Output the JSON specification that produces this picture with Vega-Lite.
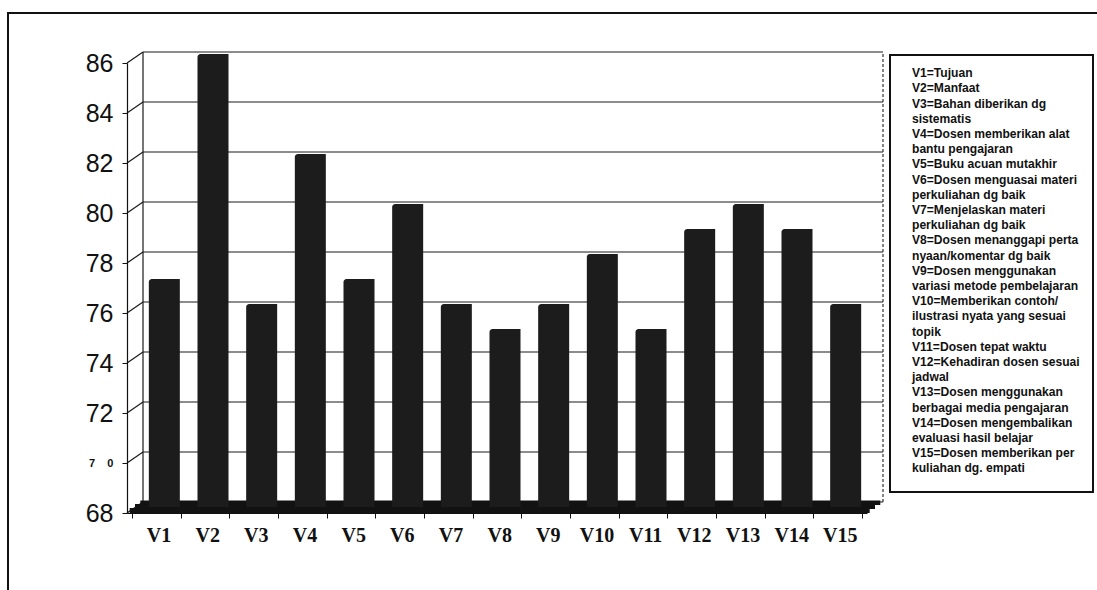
{
  "$schema": "https://vega.github.io/schema/vega-lite/v6.json",
  "width": 740,
  "height": 450,
  "autosize": "none",
  "padding": {"left": 127, "top": 63, "right": 230, "bottom": 77},
  "background": "white",
  "config": {
    "view": {"stroke": null},
    "font": "Liberation Sans"
  },
  "datasets": {
    "scores": [
      {"var": "V1", "n": 1, "value": 77},
      {"var": "V2", "n": 2, "value": 86},
      {"var": "V3", "n": 3, "value": 76},
      {"var": "V4", "n": 4, "value": 82},
      {"var": "V5", "n": 5, "value": 77},
      {"var": "V6", "n": 6, "value": 80},
      {"var": "V7", "n": 7, "value": 76},
      {"var": "V8", "n": 8, "value": 75},
      {"var": "V9", "n": 9, "value": 76},
      {"var": "V10", "n": 10, "value": 78},
      {"var": "V11", "n": 11, "value": 75},
      {"var": "V12", "n": 12, "value": 79},
      {"var": "V13", "n": 13, "value": 80},
      {"var": "V14", "n": 14, "value": 79},
      {"var": "V15", "n": 15, "value": 76}
    ],
    "ticks": [
      {"tick": 68}, {"tick": 70}, {"tick": 72}, {"tick": 74}, {"tick": 76},
      {"tick": 78}, {"tick": 80}, {"tick": 82}, {"tick": 84}, {"tick": 86}
    ],
    "keyLines": [
      {"line": 0, "text": "V1=Tujuan"},
      {"line": 1, "text": "V2=Manfaat"},
      {"line": 2, "text": "V3=Bahan diberikan dg"},
      {"line": 3, "text": "sistematis"},
      {"line": 4, "text": "V4=Dosen memberikan alat"},
      {"line": 5, "text": "bantu pengajaran"},
      {"line": 6, "text": "V5=Buku acuan mutakhir"},
      {"line": 7, "text": "V6=Dosen menguasai materi"},
      {"line": 8, "text": "perkuliahan dg baik"},
      {"line": 9, "text": "V7=Menjelaskan materi"},
      {"line": 10, "text": "perkuliahan dg baik"},
      {"line": 11, "text": "V8=Dosen menanggapi perta"},
      {"line": 12, "text": "nyaan/komentar dg baik"},
      {"line": 13, "text": "V9=Dosen menggunakan"},
      {"line": 14, "text": "variasi metode pembelajaran"},
      {"line": 15, "text": "V10=Memberikan contoh/"},
      {"line": 16, "text": "ilustrasi nyata yang sesuai"},
      {"line": 17, "text": "topik"},
      {"line": 18, "text": "V11=Dosen tepat waktu"},
      {"line": 19, "text": "V12=Kehadiran dosen sesuai"},
      {"line": 20, "text": "jadwal"},
      {"line": 21, "text": "V13=Dosen menggunakan"},
      {"line": 22, "text": "berbagai media pengajaran"},
      {"line": 23, "text": "V14=Dosen mengembalikan"},
      {"line": 24, "text": "evaluasi hasil belajar"},
      {"line": 25, "text": "V15=Dosen memberikan per"},
      {"line": 26, "text": "kuliahan dg. empati"}
    ]
  },
  "layer": [
    {
      "description": "back wall gridlines",
      "data": {"name": "ticks"},
      "mark": {"type": "rule", "color": "#1a1a1a", "strokeWidth": 1.2, "xOffset": 16, "x2Offset": 16, "yOffset": -11},
      "encoding": {
        "x": {"datum": 0.5, "type": "quantitative", "scale": {"domain": [0.5, 15.5], "nice": false, "zero": false}, "axis": null},
        "x2": {"datum": 15.5},
        "y": {"field": "tick", "type": "quantitative", "scale": {"domain": [68, 86], "nice": false, "zero": false}, "axis": null}
      }
    },
    {
      "description": "side wall diagonals",
      "data": {"name": "ticks"},
      "mark": {"type": "rule", "color": "#1a1a1a", "strokeWidth": 1.2, "x2Offset": 16, "y2Offset": -11},
      "encoding": {
        "x": {"datum": 0.5, "type": "quantitative", "scale": {"domain": [0.5, 15.5], "nice": false, "zero": false}, "axis": null},
        "x2": {"datum": 0.5},
        "y": {"field": "tick", "type": "quantitative", "scale": {"domain": [68, 86], "nice": false, "zero": false}, "axis": null},
        "y2": {"field": "tick"}
      }
    },
    {
      "description": "back wall left edge",
      "data": {"values": [{}]},
      "mark": {"type": "rule", "color": "#1a1a1a", "strokeWidth": 1.2, "xOffset": 16, "yOffset": -11, "y2Offset": -11},
      "encoding": {
        "x": {"datum": 0.5, "type": "quantitative", "scale": {"domain": [0.5, 15.5], "nice": false, "zero": false}, "axis": null},
        "y": {"datum": 68, "type": "quantitative", "scale": {"domain": [68, 86], "nice": false, "zero": false}, "axis": null},
        "y2": {"datum": 86}
      }
    },
    {
      "description": "back wall right edge",
      "data": {"values": [{}]},
      "mark": {"type": "rule", "color": "#333333", "strokeWidth": 1.2, "strokeDash": [3, 2], "xOffset": 16, "yOffset": -11, "y2Offset": -11},
      "encoding": {
        "x": {"datum": 15.5, "type": "quantitative", "scale": {"domain": [0.5, 15.5], "nice": false, "zero": false}, "axis": null},
        "y": {"datum": 68, "type": "quantitative", "scale": {"domain": [68, 86], "nice": false, "zero": false}, "axis": null},
        "y2": {"datum": 86}
      }
    },
    {
      "description": "floor, front slice",
      "data": {"values": [{}]},
      "mark": {"type": "rect", "color": "#121212", "xOffset": 2.7, "x2Offset": 2.7, "yOffset": 0, "y2Offset": -5},
      "encoding": {
        "x": {"datum": 0.5, "type": "quantitative", "scale": {"domain": [0.5, 15.5], "nice": false, "zero": false}, "axis": null},
        "x2": {"datum": 15.5},
        "y": {"datum": 68, "type": "quantitative", "scale": {"domain": [68, 86], "nice": false, "zero": false}, "axis": null},
        "y2": {"datum": 68}
      }
    },
    {
      "description": "floor, middle slice",
      "data": {"values": [{}]},
      "mark": {"type": "rect", "color": "#121212", "xOffset": 8, "x2Offset": 8, "yOffset": -4, "y2Offset": -9},
      "encoding": {
        "x": {"datum": 0.5, "type": "quantitative", "scale": {"domain": [0.5, 15.5], "nice": false, "zero": false}, "axis": null},
        "x2": {"datum": 15.5},
        "y": {"datum": 68, "type": "quantitative", "scale": {"domain": [68, 86], "nice": false, "zero": false}, "axis": null},
        "y2": {"datum": 68}
      }
    },
    {
      "description": "floor, back slice",
      "data": {"values": [{}]},
      "mark": {"type": "rect", "color": "#121212", "xOffset": 13.3, "x2Offset": 13.3, "yOffset": -8, "y2Offset": -12.5},
      "encoding": {
        "x": {"datum": 0.5, "type": "quantitative", "scale": {"domain": [0.5, 15.5], "nice": false, "zero": false}, "axis": null},
        "x2": {"datum": 15.5},
        "y": {"datum": 68, "type": "quantitative", "scale": {"domain": [68, 86], "nice": false, "zero": false}, "axis": null},
        "y2": {"datum": 68}
      }
    },
    {
      "description": "score columns, carrying both axes",
      "data": {"name": "scores"},
      "mark": {"type": "bar", "color": "#1c1c1c", "width": 31, "xOffset": 8, "yOffset": -9, "y2Offset": -6, "cornerRadiusTopLeft": 3},
      "encoding": {
        "x": {
          "field": "n", "type": "quantitative",
          "scale": {"domain": [0.5, 15.5], "nice": false, "zero": false},
          "axis": {
            "title": null, "grid": false,
            "values": [0.5, 1.5, 2.5, 3.5, 4.5, 5.5, 6.5, 7.5, 8.5, 9.5, 10.5, 11.5, 12.5, 13.5, 14.5, 15.5],
            "labelExpr": "datum.value < 15 ? 'V' + (datum.value + 0.5) : ''",
            "labelOffset": 26.5, "labelFlush": false, "labelOverlap": false, "labelBound": false,
            "labelFont": "Liberation Serif", "labelFontWeight": "bold", "labelFontSize": 20, "labelColor": "#111111",
            "labelPadding": 7, "tickSize": 5, "tickColor": "#111111", "tickWidth": 1,
            "domainColor": "#111111", "domainWidth": 1.2, "zindex": 1
          }
        },
        "y": {
          "field": "value", "type": "quantitative",
          "scale": {"domain": [68, 86], "nice": false, "zero": false},
          "axis": {
            "title": null, "grid": false,
            "values": [68, 70, 72, 74, 76, 78, 80, 82, 84, 86],
            "labelExpr": "datum.value == 70 ? '7\u00a0\u00a0\u00a0\u00a00\u00a0\u00a0\u00a0' : datum.label",
            "labelFont": "Liberation Sans",
            "labelFontSize": {"condition": {"test": "datum.value == 70", "value": 11}, "value": 25},
            "labelFontWeight": {"condition": {"test": "datum.value == 70", "value": "bold"}, "value": "normal"},
            "labelColor": "#111111", "labelPadding": 9, "labelOverlap": false, "labelFlush": false,
            "tickSize": 5, "tickColor": "#111111", "tickWidth": 1,
            "domainColor": "#111111", "domainWidth": 1.2, "zindex": 1
          }
        },
        "y2": {"datum": 68}
      }
    },
    {
      "description": "outer chart border",
      "data": {"values": [{}]},
      "mark": {"type": "rect", "fill": null, "stroke": "#111111", "strokeWidth": 2},
      "encoding": {
        "x": {"datum": 0, "type": "quantitative", "scale": {"domain": [0, 1], "range": [-119, 1000]}, "axis": null},
        "x2": {"datum": 1},
        "y": {"datum": 0, "type": "quantitative", "scale": {"domain": [0, 1], "range": [-50, 560]}, "axis": null},
        "y2": {"datum": 1}
      }
    },
    {
      "description": "key box",
      "data": {"values": [{}]},
      "mark": {"type": "rect", "fill": "white", "stroke": "#111111", "strokeWidth": 2},
      "encoding": {
        "x": {"datum": 0, "type": "quantitative", "scale": {"domain": [0, 1], "range": [763, 966]}, "axis": null},
        "x2": {"datum": 1},
        "y": {"datum": -1.2, "type": "quantitative", "scale": {"domain": [0, 26], "range": [10.3, 405.3], "nice": false, "zero": false}, "axis": null},
        "y2": {"datum": 27.56}
      }
    },
    {
      "description": "key text",
      "data": {"name": "keyLines"},
      "mark": {"type": "text", "align": "left", "baseline": "middle", "dx": 22, "font": "Liberation Sans", "fontWeight": "bold", "fontSize": 12.1, "color": "#111111"},
      "encoding": {
        "x": {"datum": 0, "type": "quantitative", "scale": {"domain": [0, 1], "range": [763, 966]}, "axis": null},
        "y": {"field": "line", "type": "quantitative", "scale": {"domain": [0, 26], "range": [10.3, 405.3], "nice": false, "zero": false}, "axis": null},
        "text": {"field": "text"}
      }
    }
  ],
  "resolve": {"scale": {"x": "independent", "y": "independent"}}
}
